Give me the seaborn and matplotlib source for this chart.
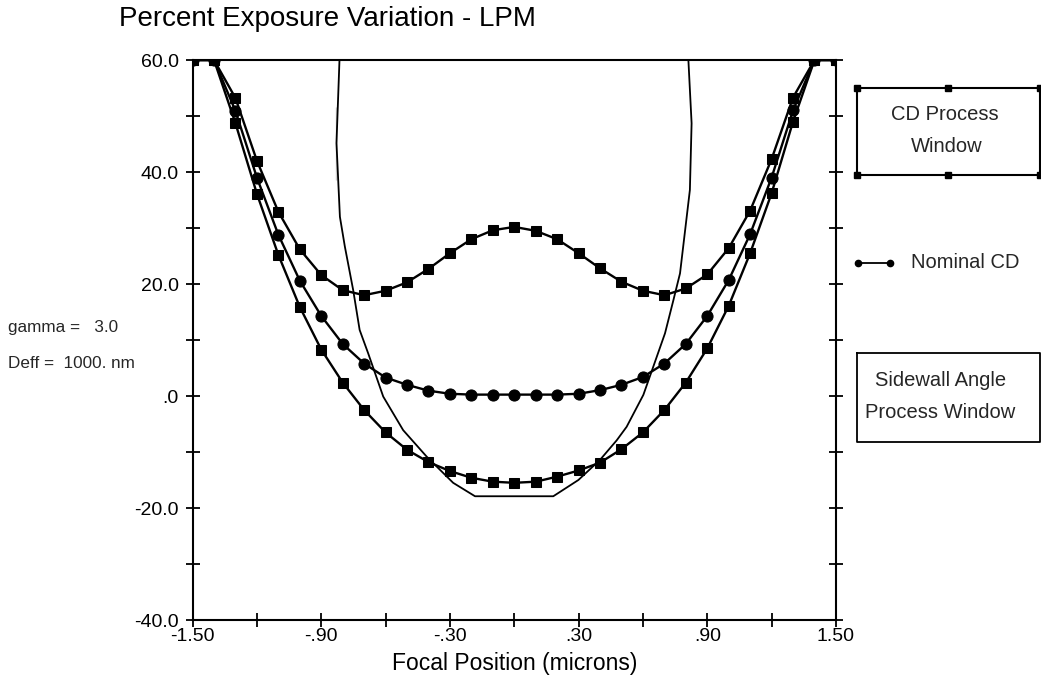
import numpy as np
import pandas as pd
import matplotlib
matplotlib.use("Agg")
import matplotlib.pyplot as plt
import seaborn as sns
from matplotlib.ticker import MultipleLocator, FixedLocator, FixedFormatter

# Data

focus = [-1.5, -1.4, -1.3, -1.2, -1.1, -1.0, -0.9, -0.8, -0.7, -0.6, -0.5,
         -0.4, -0.3, -0.2, -0.1, 0.0, 0.1, 0.2, 0.3, 0.4, 0.5,
         0.6, 0.7, 0.8, 0.9, 1.0, 1.1, 1.2, 1.3, 1.4, 1.5]

cd_upper = [60.0, 60.0, 53.2, 42.0, 32.9, 26.2, 21.6, 18.9, 18.0, 18.8, 20.3,
            22.7, 25.5, 28.0, 29.6, 30.2, 29.5, 28.0, 25.5, 22.8, 20.4,
            18.8, 18.0, 19.2, 21.7, 26.4, 33.1, 42.3, 53.3, 60.0, 60.0]

nominal_cd = [60.0, 60.0, 50.9, 39.0, 28.8, 20.6, 14.3, 9.3, 5.8, 3.3, 2.0,
              0.95, 0.4, 0.25, 0.25, 0.25, 0.25, 0.25, 0.4, 1.05, 2.0,
              3.4, 5.8, 9.3, 14.3, 20.7, 28.9, 39.0, 51.0, 60.0, 60.0]

cd_lower = [60.0, 60.0, 48.7, 36.1, 25.2, 15.9, 8.3, 2.4, -2.5, -6.5, -9.6,
            -11.8, -13.4, -14.6, -15.3, -15.5, -15.3, -14.4, -13.3, -11.9, -9.5,
            -6.5, -2.5, 2.4, 8.5, 16.1, 25.5, 36.2, 49.0, 60.0, 60.0]

# sidewall angle process window boundary (one polyline, left top -> bottom -> right top)
swa_x = [-0.815, -0.829, -0.829, -0.813, -0.790, -0.751, -0.721, -0.681, -0.611,
         -0.518, -0.409, -0.285, -0.183, 0.182, 0.299, 0.400, 0.478, 0.524,
         0.602, 0.648, 0.703, 0.742, 0.773, 0.819, 0.827, 0.812]
swa_y = [60.0, 51.7, 38.6, 32.0, 26.7, 18.9, 11.8, 7.6, -0.1,
         -6.1, -10.8, -15.5, -17.9, -17.9, -15.0, -11.4, -7.9, -5.5,
         0.2, 5.2, 11.2, 17.1, 21.9, 36.8, 48.7, 60.0]

x_ticks = [-1.5, -0.9, -0.3, 0.3, 0.9, 1.5]
x_labels = ["-1.50", "-.90", "-.30", ".30", ".90", "1.50"]
y_ticks = [-40, -20, 0, 20, 40, 60]
y_labels = ["-40.0", "-20.0", ".0", "20.0", "40.0", "60.0"]

sns.set_theme(style="white")
plt.rcParams["font.family"] = ["Liberation Sans", "DejaVu Sans"]

fig = plt.figure(figsize=(10.41, 6.86), dpi=100)
ax = fig.add_axes([0.185, 0.0962, 0.618, 0.8163])

df = pd.DataFrame({"focus": focus, "upper": cd_upper,
                   "nominal": nominal_cd, "lower": cd_lower})

sns.lineplot(data=df, x="focus", y="upper", ax=ax, color="black", lw=1.7,
             marker="s", markersize=7.5, markeredgecolor="black")
sns.lineplot(data=df, x="focus", y="nominal", ax=ax, color="black", lw=1.7,
             marker="o", markersize=8, markeredgecolor="black")
sns.lineplot(data=df, x="focus", y="lower", ax=ax, color="black", lw=1.7,
             marker="s", markersize=7.5, markeredgecolor="black")
sns.lineplot(x=swa_x, y=swa_y, ax=ax, color="black", lw=1.3, sort=False)

ax.set_xlim(-1.5, 1.5)
ax.set_ylim(-40, 60)
ax.xaxis.set_major_locator(FixedLocator(x_ticks))
ax.xaxis.set_major_formatter(FixedFormatter(x_labels))
ax.xaxis.set_minor_locator(MultipleLocator(0.3))
ax.yaxis.set_major_locator(FixedLocator(y_ticks))
ax.yaxis.set_major_formatter(FixedFormatter(y_labels))
ax.yaxis.set_minor_locator(MultipleLocator(10))

ax.tick_params(which="both", direction="inout", length=10, width=1.3,
               color="black", left=True, right=True, bottom=True, top=False,
               labelsize=14, labelcolor="black")
ax.tick_params(axis="x", pad=1)
ax.tick_params(axis="y", pad=5)
for s in ax.spines.values():
    s.set_color("black")
    s.set_linewidth(1.5)

ax.set_xlabel("Focal Position (microns)", fontsize=16.5, color="black", labelpad=5)
ax.set_ylabel("")

fig.text(0.114, 0.973, "Percent Exposure Variation - LPM", fontsize=20,
         ha="left", va="center", color="black")
fig.text(0.008, 0.522, "gamma =   3.0", fontsize=12.3, ha="left", va="center")
fig.text(0.008, 0.470, "Deff =  1000. nm", fontsize=12.3, ha="left", va="center")

# legend drawn in figure pixel space
lg = fig.add_axes([0, 0, 1, 1], facecolor="none")
lg.set_xlim(0, 1041)
lg.set_ylim(686, 0)
lg.axis("off")

lg.plot([857, 1040, 1040, 857, 857], [88, 88, 175, 175, 88], color="black", lw=1.5)
lg.plot([857, 948, 1040, 857, 948, 1040], [88, 88, 88, 175, 175, 175],
        ls="none", marker="s", markersize=4.5, color="black")
lg.text(945, 115, "CD Process", fontsize=14.5, ha="center", va="center")
lg.text(947, 147, "Window", fontsize=14.5, ha="center", va="center")

lg.plot([858, 890], [263, 263], color="black", lw=1.3, marker="o", markersize=4.5)
lg.text(911, 263, "Nominal CD", fontsize=14.5, ha="left", va="center")

lg.plot([857, 1040, 1040, 857, 857], [353, 353, 442, 442, 353], color="black", lw=1.3)
lg.text(941, 380, "Sidewall Angle", fontsize=14.5, ha="center", va="center")
lg.text(940, 413, "Process Window", fontsize=14.5, ha="center", va="center")

fig.savefig("out.png", dpi=100)
